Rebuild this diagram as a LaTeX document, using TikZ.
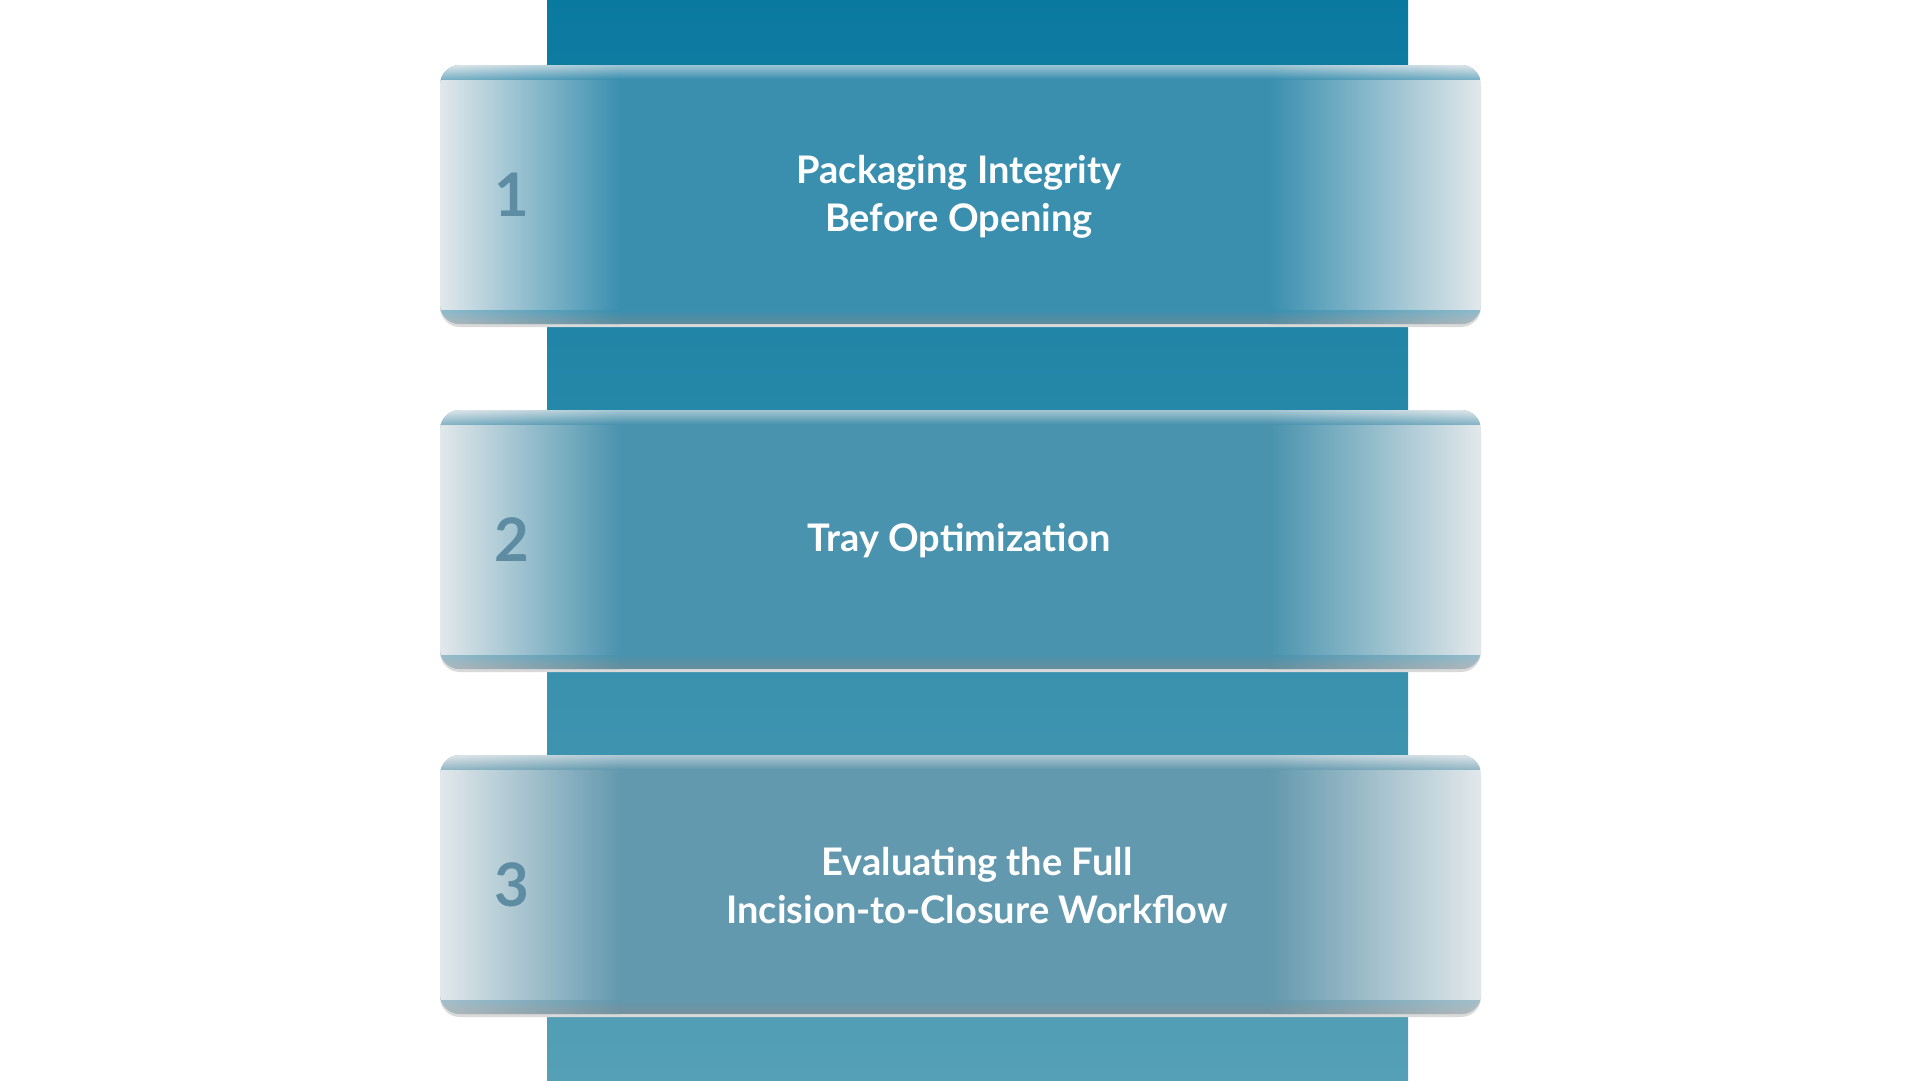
\documentclass[tikz,border=0pt]{standalone}
\usepackage{fontspec}
\setmainfont{Lato}
\begin{document}
\begin{tikzpicture}[x=1pt,y=-1pt,
  lbl/.style={text=white,font=\fontsize{38}{48}\selectfont\bfseries,align=center},
  num/.style={text=numc,font=\fontsize{60}{60}\selectfont\bfseries}]
\definecolor{light}{HTML}{E2E8EB}
\definecolor{numc}{HTML}{5E8CA2}
\definecolor{bandtop}{HTML}{0A79A0}
\definecolor{bandbot}{HTML}{55A0B6}
\useasboundingbox (0,0) rectangle (1920,1080);
\shade[top color=bandtop,bottom color=bandbot] (547,0) rectangle (1408,1080);
\foreach \y/\c [count=\i] in {65/3A8FAF,410/4A93AE,755/6399AE}{
  \definecolor{cc}{HTML}{\c}
  \fill[black!15,rounded corners=20] (440,\y+3) rectangle (1481,\y+262);
  \begin{scope}
    \clip[rounded corners=20] (440,\y) rectangle (1481,\y+259);
    \fill[cc] (440,\y) rectangle (1481,\y+259);
    \shade[left color=light,right color=cc] (440,\y) rectangle (620,\y+259);
    \shade[left color=cc,right color=light] (1270,\y) rectangle (1481,\y+259);
    \shade[top color=light,bottom color=cc,opacity=.6] (440,\y) rectangle (1481,\y+14);
    \shade[top color=cc,bottom color=black!40!light,opacity=.5] (440,\y+245) rectangle (1481,\y+259);
  \end{scope}
  \node[num] (n\i) at (512,\y+130) {\i};
}
\node[lbl] (t1) at (959,197) {Packaging Integrity\\Before Opening};
\node[lbl] (t2) at (959,541) {Tray Optimization};
\node[lbl] (t3) at (977,886) {Evaluating the Full\\Incision-to-Closure Workflow};
\end{tikzpicture}
\end{document}
